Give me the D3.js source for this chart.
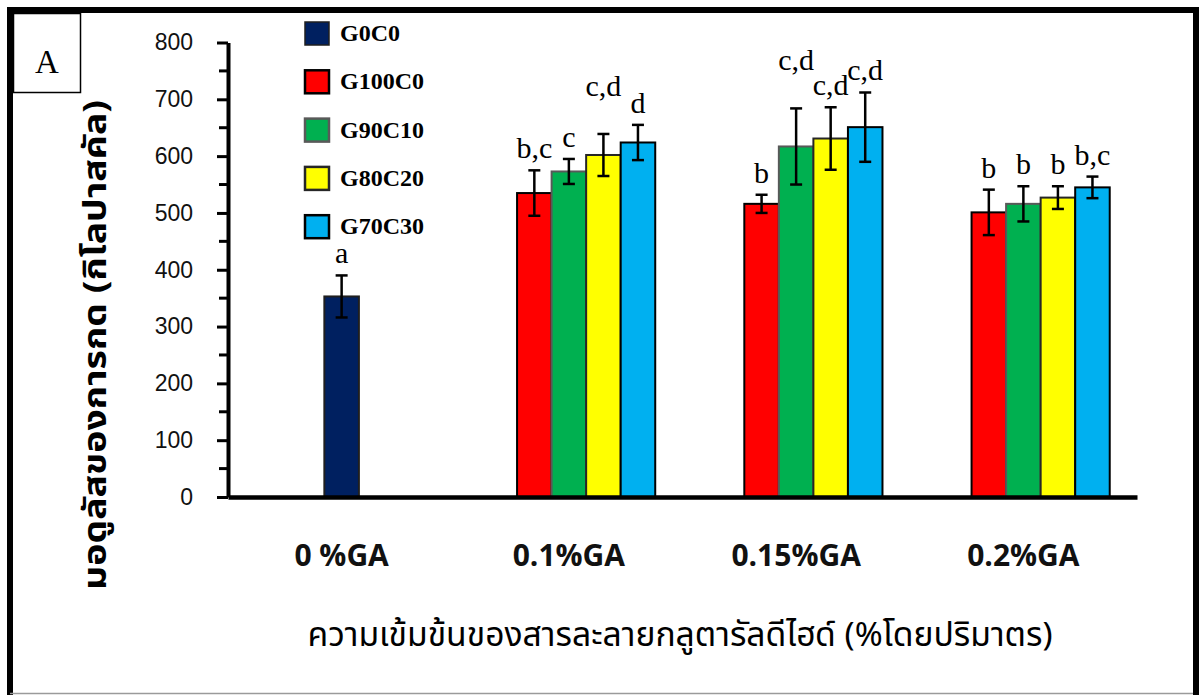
<!DOCTYPE html>
<html>
<head>
<meta charset="utf-8">
<script src="https://cdn.jsdelivr.net/npm/d3@7"></script>
<style>
  html, body { margin: 0; padding: 0; background: #fff; }
  svg { display: block; }
</style>
</head>
<body>
<svg id="chart" width="1203" height="695"></svg>
<script>
// Concentration groups along the x axis
const categories = ["0 %GA", "0.1%GA", "0.15%GA", "0.2%GA"];
// Formulations (legend order)
const seriesNames = ["G0C0", "G100C0", "G90C10", "G80C20", "G70C30"];
// Mean compressive modulus (kPa); null = not measured in that group
const meanG0C0   = [353, null, null, null];
const meanG100C0 = [null, 535, 516, 501];
const meanG90C10 = [null, 573, 617, 516];
const meanG80C20 = [null, 602, 631, 527];
const meanG70C30 = [null, 624, 651, 545];
// Error (± kPa)
const errG0C0   = [37, null, null, null];
const errG100C0 = [null, 40, 16, 40];
const errG90C10 = [null, 22, 67, 31];
const errG80C20 = [null, 37, 55, 20];
const errG70C30 = [null, 31, 61, 19];
// Significance letters
const sigG0C0   = ["a", null, null, null];
const sigG100C0 = [null, "b,c", "b", "b"];
const sigG90C10 = [null, "c", "c,d", "b"];
const sigG80C20 = [null, "c,d", "c,d", "b"];
const sigG70C30 = [null, "d", "c,d", "b,c"];
// Y axis ticks
const yTicks = [0, 100, 200, 300, 400, 500, 600, 700, 800];

const yTitle = "มอดูลัสของการกด (กิโลปาสคัล)";
const xTitle = "ความเข้มข้นของสารละลายกลูตารัลดีไฮด์ (%โดยปริมาตร)";
const panelLabel = "A";

const seriesMeans = [meanG0C0, meanG100C0, meanG90C10, meanG80C20, meanG70C30];
const seriesErrs  = [errG0C0, errG100C0, errG90C10, errG80C20, errG70C30];
const seriesSig   = [sigG0C0, sigG100C0, sigG90C10, sigG80C20, sigG70C30];

const fills   = ["#002060", "#FF0000", "#00B050", "#FFFF00", "#00B0F0"];
const strokes = ["#1f1f1f", "#000000", "#595959", "#262626", "#000000"];

// Flatten into one record per drawn bar
const bars = [];
seriesNames.forEach((s, si) => {
  categories.forEach((c, ci) => {
    const v = seriesMeans[si][ci];
    if (v == null) return;
    bars.push({ series: s, si, cat: c, ci, value: v, err: seriesErrs[si][ci], sig: seriesSig[si][ci] });
  });
});

const svg = d3.select("#chart");

const plot = { left: 228, right: 1137, top: 42.5, bottom: 497 };

const x0 = d3.scaleBand()
  .domain(categories)
  .range([plot.left, plot.right])
  .paddingInner(0.24)
  .paddingOuter(0.12);

const x1 = d3.scaleBand()
  .domain(seriesNames)
  .range([0, x0.bandwidth()]);

const y = d3.scaleLinear().domain([0, 800]).range([plot.bottom, plot.top]);

// number of series present per category
const countPerCat = categories.map(c => bars.filter(b => b.cat === c).length);

function barX(b) {
  if (countPerCat[b.ci] === 1) {
    return x0(b.cat) + (x0.bandwidth() - x1.bandwidth()) / 2;
  }
  return x0(b.cat) + x1(b.series);
}

// Outer frame
svg.append("path")
  .attr("d", "M10,697 L10,10 L1196,10 L1196,697")
  .attr("fill", "none").attr("stroke", "#000").attr("stroke-width", 6);
svg.append("line")
  .attr("x1", 10).attr("x2", 1193).attr("y1", 693.5).attr("y2", 693.5)
  .attr("stroke", "#9a9a9a").attr("stroke-width", 1.5);

// Panel label box
svg.append("rect")
  .attr("x", 13.5).attr("y", 13.5).attr("width", 67).attr("height", 79)
  .attr("fill", "#fff").attr("stroke", "#000").attr("stroke-width", 1.5);
svg.append("text")
  .attr("x", 47).attr("y", 73)
  .attr("text-anchor", "middle")
  .attr("font-family", "'Liberation Serif', 'Times New Roman', serif")
  .attr("font-size", 33)
  .text(panelLabel);

// Bars
svg.append("g").selectAll("rect").data(bars).join("rect")
  .attr("x", b => barX(b))
  .attr("y", b => y(b.value))
  .attr("width", x1.bandwidth())
  .attr("height", b => y(0) - y(b.value))
  .attr("fill", b => fills[b.si])
  .attr("stroke", b => strokes[b.si])
  .attr("stroke-width", 2);

// Error bars
const capW = 12;
const eb = svg.append("g").attr("stroke", "#000").attr("stroke-width", 2.5);
bars.forEach(b => {
  const cx = barX(b) + x1.bandwidth() / 2;
  const y1 = y(b.value + b.err), y2 = y(b.value - b.err);
  eb.append("line").attr("x1", cx).attr("x2", cx).attr("y1", y1).attr("y2", y2);
  eb.append("line").attr("x1", cx - capW / 2).attr("x2", cx + capW / 2).attr("y1", y1).attr("y2", y1);
  eb.append("line").attr("x1", cx - capW / 2).attr("x2", cx + capW / 2).attr("y1", y2).attr("y2", y2);
});

// Significance letters above error bars; a few are lifted one line to stay clear of neighbours
const lifted = new Set(["G80C20|0.1%GA", "G90C10|0.15%GA"]);
svg.append("g").selectAll("text").data(bars).join("text")
  .attr("x", b => barX(b) + x1.bandwidth() / 2)
  .attr("y", b => y(b.value + b.err) - 12 - (lifted.has(b.series + "|" + b.cat) ? 26 : 0))
  .attr("text-anchor", "middle")
  .attr("font-family", "'Liberation Serif', 'Times New Roman', serif")
  .attr("font-size", 30)
  .text(b => b.sig);

// Y axis with major and minor ticks
const yAxisG = svg.append("g").attr("transform", `translate(${plot.left},0)`);
const minor = d3.range(50, 800, 100);
yAxisG.selectAll("line.minor").data(minor).join("line")
  .attr("class", "minor")
  .attr("x1", -9).attr("x2", 0)
  .attr("y1", d => y(d)).attr("y2", d => y(d))
  .attr("stroke", "#000").attr("stroke-width", 3);
const yAxis = d3.axisLeft(y).tickValues(yTicks).tickSize(11).tickSizeOuter(0).tickPadding(24);
yAxisG.call(yAxis);
yAxisG.select(".domain").attr("stroke-width", 4).attr("stroke", "#000");
yAxisG.selectAll(".tick line").attr("stroke-width", 3).attr("stroke", "#000");
yAxisG.selectAll(".tick text")
  .attr("font-family", "'Liberation Sans', Arial, sans-serif")
  .attr("font-size", 23)
  .attr("fill", "#111");

// X axis baseline and category labels
const xAxisG = svg.append("g").attr("transform", `translate(0,${plot.bottom})`);
const xAxis = d3.axisBottom(x0).tickSize(0).tickSizeOuter(0).tickPadding(48);
xAxisG.call(xAxis);
xAxisG.select(".domain").attr("stroke-width", 4.5).attr("stroke", "#000");
xAxisG.selectAll(".tick text")
  .attr("font-family", "'Open Sans', 'Noto Sans', sans-serif")
  .attr("font-weight", "bold")
  .attr("font-size", 30)
  .attr("fill", "#111");

// Legend
const legend = svg.append("g");
seriesNames.forEach((s, i) => {
  const gy = 22 + i * 48.3;
  legend.append("rect")
    .attr("x", 305).attr("y", gy).attr("width", 24).attr("height", 23)
    .attr("fill", fills[i]).attr("stroke", strokes[i]).attr("stroke-width", i === 0 ? 1.5 : 2.5);
  legend.append("text")
    .attr("x", 340).attr("y", gy + 19)
    .attr("font-family", "'Liberation Serif', 'Times New Roman', serif")
    .attr("font-weight", "bold")
    .attr("font-size", 24)
    .text(s);
});

// Axis titles
const thaiFont = "'Noto Sans Thai', 'Noto Serif Thai', Tahoma, 'DejaVu Sans', sans-serif";
svg.append("text")
  .attr("transform", "translate(106,345) rotate(-90)")
  .attr("text-anchor", "middle")
  .attr("font-family", thaiFont)
  .attr("font-weight", "bold")
  .attr("font-size", 32)
  .attr("textLength", 490)
  .attr("lengthAdjust", "spacingAndGlyphs")
  .text(yTitle);

svg.append("text")
  .attr("x", 680).attr("y", 646)
  .attr("text-anchor", "middle")
  .attr("font-family", thaiFont)
  .attr("font-size", 33)
  .attr("textLength", 745)
  .attr("lengthAdjust", "spacingAndGlyphs")
  .text(xTitle);
</script>
</body>
</html>
